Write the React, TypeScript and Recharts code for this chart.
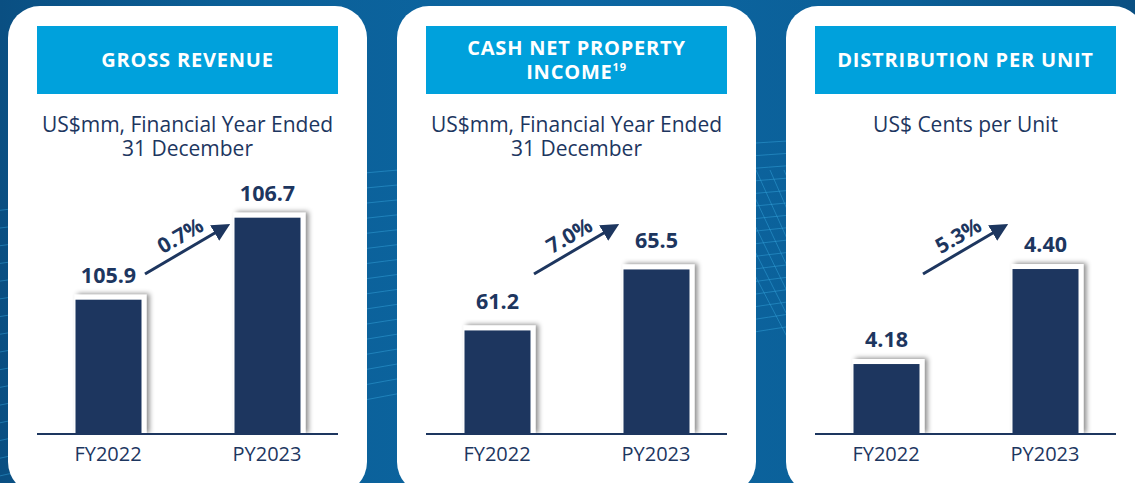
import React from 'react'
import { BarChart, Bar, XAxis, YAxis, LabelList } from 'recharts'

const periods = ['FY2022', 'PY2023']
const grossRevenue = [105.9, 106.7]
const cashNpi = [61.2, 65.5]
const distribution = [4.18, 4.4]
const growthLabels = ['0.7%', '7.0%', '5.3%']

const NAVY = '#1d365f'
const HEADER = '#00a1dc'
const FONT = '"Open Sans", sans-serif'

const toRows = (values: number[]) => periods.map((p, i) => ({ period: p, value: values[i] }))

const BarWithFrame = (props: any) => {
  const { x, y, width, height } = props
  if (height <= 0) return null
  return (
    <g>
      <rect x={x - 1} y={y - 5} width={width + 6} height={height + 5} fill="#fff" filter="url(#barShadow)" />
      <rect x={x} y={y} width={width} height={height} fill={NAVY} />
    </g>
  )
}

// faint globe lines behind the cards (only show in the gaps)
const Backdrop = () => {
  const lines = []
  for (let i = 0; i < 16; i++) {
    lines.push(<path key={'a' + i} d={`M -40 ${215 + i * 18} Q 500 ${150 + i * 14} 1180 ${120 + i * 10}`} />)
  }
  for (let i = 0; i < 8; i++) {
    lines.push(<path key={'b' + i} d={`M ${700 + i * 14} 170 L ${820 + i * 10} 400`} />)
  }
  return (
    <svg style={{ position: 'absolute', left: 0, top: 0 }} width={1135} height={483}>
      <g stroke="#38a9e0" strokeOpacity={0.45} strokeWidth={1} fill="none">{lines}</g>
    </svg>
  )
}

interface CardProps {
  left: number
  title: React.ReactNode
  subtitle: React.ReactNode
  values: number[]
  domain: [number, number]
  decimals: number
  growth: string
  labelOffset: number
}

const Card: React.FC<CardProps> = ({ left, title, subtitle, values, domain, decimals, growth, labelOffset }) => {
  const rows = toRows(values)
  return (
    <div style={{ position: 'absolute', left, top: 6, width: 359, height: 488, background: '#fff', borderRadius: 32, overflow: 'hidden' }}>
      <div style={{ position: 'absolute', left: 29, top: 20, width: 301, height: 68, background: HEADER, color: '#fff', fontFamily: FONT, fontWeight: 700, fontSize: 20, letterSpacing: 0.8, display: 'flex', alignItems: 'center', justifyContent: 'center', textAlign: 'center', lineHeight: '24px' }}>
        <div>{title}</div>
      </div>
      <div style={{ position: 'absolute', left: 0, top: 106, width: 359, textAlign: 'center', color: NAVY, fontFamily: FONT, fontSize: 21, lineHeight: '24px' }}>
        {subtitle}
      </div>
      <div style={{ position: 'absolute', left: 0, top: 0 }}>
        <BarChart width={359} height={483} data={rows} margin={{ top: 184, right: 29, bottom: 0, left: 29 }}>
          <defs>
            <filter id="barShadow" x="-30%" y="-30%" width="160%" height="160%">
              <feDropShadow dx={3} dy={-1} stdDeviation={2.5} floodColor="#000" floodOpacity={0.45} />
            </filter>
          </defs>
          <XAxis
            dataKey="period"
            height={55}
            padding={{ left: -8.5, right: -8.5 }}
            tickLine={false}
            axisLine={{ stroke: NAVY, strokeWidth: 2 }}
            tick={{ fill: NAVY, fontSize: 20, fontFamily: FONT }}
            tickMargin={7}
          />
          <YAxis hide domain={domain} allowDataOverflow />
          <Bar dataKey="value" barSize={66} isAnimationActive={false} shape={BarWithFrame}>
            <LabelList
              dataKey="value"
              position="top"
              offset={labelOffset}
              formatter={(v: any) => Number(v).toFixed(decimals)}
              style={{ fill: NAVY, fontSize: 21.5, fontWeight: 700, fontFamily: FONT }}
            />
          </Bar>
        </BarChart>
      </div>
      <svg style={{ position: 'absolute', left: 0, top: 0 }} width={359} height={483}>
        <defs>
          <marker id={`head${left}`} markerWidth="6" markerHeight="6" refX="4" refY="3" orient="auto" markerUnits="strokeWidth">
            <path d="M0,0 L6,3 L0,6 Z" fill={NAVY} />
          </marker>
        </defs>
        <line x1={137} y1={268} x2={217} y2={221} stroke={NAVY} strokeWidth={3} markerEnd={`url(#head${left})`} />
        <text x={172} y={229} transform="rotate(-30 172 229)" textAnchor="middle" dominantBaseline="central" fill={NAVY} fontSize={21} fontWeight={700} fontFamily={FONT}>
          {growth}
        </text>
      </svg>
    </div>
  )
}

export default function App() {
  return (
    <div style={{ position: 'absolute', left: 0, top: 0, width: 1135, height: 483, overflow: 'hidden', background: 'linear-gradient(90deg, #0a4f82 0%, #0b5f97 20%, #0c66a2 50%, #0b5f97 80%, #0a4f82 100%)' }}>
      <Backdrop />
      <Card
        left={8}
        title="GROSS REVENUE"
        subtitle={<>US$mm, Financial Year Ended<br />31 December</>}
        values={grossRevenue}
        domain={[104.59, 106.97]}
        decimals={1}
        growth={growthLabels[0]}
        labelOffset={17}
      />
      <Card
        left={397}
        title={<>CASH NET PROPERTY<br />INCOME<sup style={{ fontSize: 11, lineHeight: 0 }}>19</sup></>}
        subtitle={<>US$mm, Financial Year Ended<br />31 December</>}
        values={cashNpi}
        domain={[53.9, 71.1]}
        decimals={1}
        growth={growthLabels[1]}
        labelOffset={21}
      />
      <Card
        left={786}
        title="DISTRIBUTION PER UNIT"
        subtitle="US$ Cents per Unit"
        values={distribution}
        domain={[4.018, 4.583]}
        decimals={2}
        growth={growthLabels[2]}
        labelOffset={17}
      />
    </div>
  )
}
